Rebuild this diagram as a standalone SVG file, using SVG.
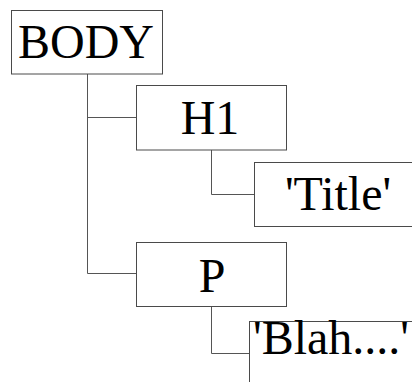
<svg xmlns="http://www.w3.org/2000/svg" width="412" height="382" viewBox="0 0 412 382">
  <style>
    .box { fill: #ffffff; stroke: #4a4a4a; stroke-width: 1; }
    .label { font-family: "Liberation Serif", "Times New Roman", serif; font-size: 48px; fill: #000000; text-anchor: middle; }
    .link { fill: none; stroke: #555555; stroke-width: 1; }
  </style>
  <rect width="412" height="382" fill="#ffffff"/>

  <!-- tree connectors -->
  <g id="connectors">
    <path class="link" d="M87.5 74 V273.5 H136.5 M87.5 117.5 H136.5"/>
    <path class="link" d="M211.5 150 V194.5 H254.5"/>
    <path class="link" d="M211.5 306.5 V353.5 H249.5"/>
  </g>

  <g id="node-body">
    <rect class="box" x="11.5" y="10.5" width="151" height="63.5"/>
    <text class="label" x="86" y="58">BODY</text>
  </g>

  <g id="node-h1">
    <rect class="box" x="136.5" y="85.5" width="150" height="64.5"/>
    <text class="label" x="210" y="134">H1</text>
  </g>

  <g id="node-title">
    <rect class="box" x="254.5" y="162.5" width="180" height="64"/>
    <text class="label" x="338" y="210">'Title'</text>
  </g>

  <g id="node-p">
    <rect class="box" x="136.5" y="242.5" width="150" height="64"/>
    <text class="label" x="212" y="291.5">P</text>
  </g>

  <g id="node-blah">
    <rect class="box" x="249.5" y="321.5" width="180" height="64"/>
    <text class="label" x="331" y="354">'Blah....'</text>
  </g>
</svg>
